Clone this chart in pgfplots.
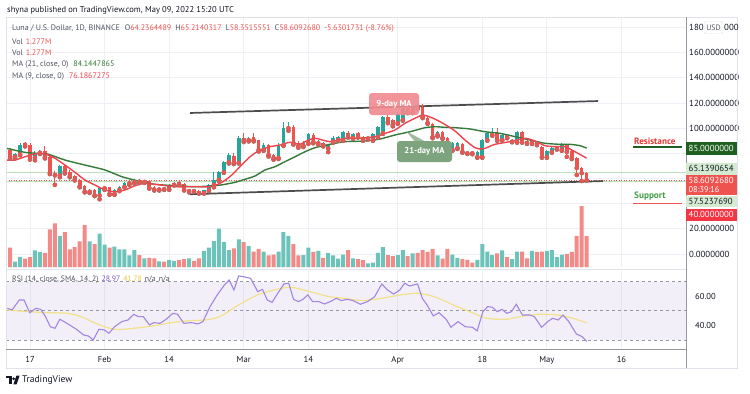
\documentclass[border=0pt]{standalone}
\usepackage{pgfplots}
\pgfplotsset{compat=1.18}
\usepackage{pgfplotstable}
\usepackage{fontspec}
\setmainfont{PT Sans}
\definecolor{cUp}{HTML}{26A69A}
\definecolor{cDn}{HTML}{EF5350}
\definecolor{volup}{HTML}{6CC3BA}
\definecolor{voldn}{HTML}{F48A87}
\definecolor{gridc}{HTML}{EDF0F6}
\definecolor{txt}{HTML}{131722}
\definecolor{txtg}{HTML}{50535E}
\definecolor{ma9}{HTML}{F0434E}
\definecolor{ma21}{HTML}{357A38}
\definecolor{rsi}{HTML}{A386E0}
\definecolor{rsisma}{HTML}{F3E08A}
\definecolor{rsiv}{HTML}{7E57C2}
\definecolor{rsiy}{HTML}{E8CB3C}
\definecolor{trend}{HTML}{4D4D4D}
\definecolor{lgreen}{HTML}{D4EBD2}
\definecolor{lgline}{HTML}{BCE0B9}
\definecolor{dgreen}{HTML}{1F5F20}
\definecolor{axisc}{HTML}{9598A1}
\definecolor{framec}{HTML}{E0E3EB}
\definecolor{redbox}{HTML}{EF5350}
\definecolor{redbox2}{HTML}{F23645}
\definecolor{resred}{HTML}{E53935}
\definecolor{supgreen}{HTML}{43A047}
\definecolor{ninebox}{HTML}{F08A90}
\definecolor{twobox}{HTML}{7DA37F}
\newcommand\fs[1]{\fontsize{#1bp}{#1bp}\selectfont}

\pgfplotsset{
  panel/.style={scale only axis, width=680bp, xmin=12.17, xmax=148.99,
    axis line style={draw=none}, tick style={draw=none}, major tick length=0pt,
    anchor=south west},
  candle/.style 2 args={color=#1, only marks, mark=none,
    error bars/.cd, y dir=plus, y explicit, error mark=none,
    error bar style={draw=#1, color=#1, line width=#2, line cap=butt}},
}

\pgfplotstableread{
d o h l c u v
13 83.0 84.5 76.0 77.2 0 0.80
14 77.2 80.5 76.0 79.3 1 0.22
15 79.3 88.0 78.5 86.5 1 0.42
16 87.5 89.0 85.5 86.8 0 0.34
17 86.8 88.0 75.0 76.5 0 0.41
18 76.5 82.0 74.5 80.5 1 0.69
19 80.5 83.0 79.5 82.0 1 0.62
20 82.0 85.5 76.0 77.0 0 0.58
21 77.0 78.0 63.5 64.5 0 1.55
22 64.5 66.0 55.0 62.5 0 1.80
23 62.5 71.0 61.0 70.0 1 1.28
24 70.0 71.5 64.0 65.5 0 1.44
25 65.5 67.0 61.0 61.8 0 0.73
26 61.8 63.0 58.5 59.0 0 0.82
27 59.0 60.0 53.0 53.8 0 1.06
28 53.8 55.0 49.0 49.5 0 1.73
29 49.5 52.0 48.5 50.8 1 1.06
30 50.8 52.0 46.0 46.5 0 0.94
31 46.5 53.0 43.5 52.5 1 1.37
32 52.2 54.0 51.0 52.9 1 0.92
33 52.9 53.5 47.0 47.7 0 0.80
34 47.7 52.0 47.0 51.0 1 0.84
35 51.0 54.0 50.0 53.3 1 0.73
36 53.3 57.0 53.0 56.5 1 0.73
37 56.2 58.0 55.0 57.0 1 0.48
38 57.0 60.0 56.0 59.0 1 0.70
39 59.0 60.0 56.5 57.5 0 0.49
40 57.3 59.0 56.5 58.0 1 0.36
41 58.0 58.5 52.0 52.5 0 0.38
42 52.5 54.0 50.5 51.3 0 0.36
43 51.3 53.0 50.5 52.5 1 0.23
44 52.5 53.5 51.0 51.5 0 0.22
45 51.5 56.0 51.0 55.0 1 0.28
46 55.0 57.5 54.5 56.5 1 0.25
47 57.0 59.0 55.0 55.5 0 0.28
48 55.5 56.5 50.5 51.0 0 0.32
49 50.0 51.5 49.0 51.0 1 0.36
50 51.0 51.5 49.5 50.0 0 0.25
51 50.0 50.5 48.0 48.5 0 0.36
52 48.5 51.0 48.0 50.5 1 0.66
53 50.5 55.5 50.0 55.0 1 0.80
54 55.0 65.0 53.0 59.0 1 1.07
55 59.0 66.0 58.0 65.0 1 1.58
56 65.0 74.0 64.5 73.0 1 1.04
57 73.0 80.0 72.0 78.7 1 0.70
58 78.0 80.0 71.5 72.5 0 0.77
59 72.5 93.5 72.0 92.0 1 1.14
60 92.0 96.0 89.0 90.5 0 1.03
61 90.5 93.0 89.5 92.0 1 0.87
62 93.0 96.0 89.5 90.5 0 0.63
63 90.5 91.0 81.5 82.7 0 0.75
64 82.7 88.0 82.0 86.6 1 0.63
65 86.6 87.5 77.5 78.7 0 0.48
66 78.7 79.5 75.0 76.3 0 0.51
67 76.3 88.0 75.5 86.6 1 0.63
68 86.6 105.0 86.0 100.0 1 1.44
69 100.0 105.0 98.0 101.0 1 1.28
70 101.0 102.5 87.0 88.0 0 0.94
71 88.0 89.5 84.5 86.0 0 0.48
72 86.0 90.0 85.0 88.5 1 0.49
73 88.2 96.5 87.5 95.4 1 0.80
74 94.6 96.0 88.0 89.0 0 0.62
75 88.0 90.5 87.0 89.3 1 0.66
76 88.2 89.0 85.5 86.6 0 0.38
77 84.0 87.5 81.0 86.6 1 0.58
78 89.3 93.5 88.5 92.2 1 0.48
79 90.6 94.0 90.0 93.0 1 0.34
80 90.6 98.0 90.0 97.0 1 0.51
81 96.2 98.0 92.5 93.0 0 0.70
82 92.2 96.5 91.5 95.4 1 0.36
83 96.0 97.0 92.5 93.0 0 0.32
84 93.0 94.0 90.0 90.6 0 0.28
85 91.8 93.8 91.0 93.0 1 0.15
86 90.6 96.0 90.0 95.2 1 0.18
87 93.0 102.0 92.5 101.0 1 0.58
88 96.2 110.0 95.5 108.9 1 0.82
89 108.9 110.5 104.0 104.9 0 0.49
90 106.5 107.5 101.5 102.5 0 0.45
91 104.1 112.5 103.5 111.3 1 0.49
92 106.5 117.0 106.0 116.0 1 0.70
93 116.0 117.5 112.0 113.0 0 0.45
94 112.9 118.0 112.0 116.9 1 0.56
95 117.5 119.0 115.5 116.5 0 0.58
96 116.5 119.5 108.0 109.0 0 0.70
97 108.0 109.5 103.5 104.1 0 0.62
98 103.3 104.5 92.0 93.0 0 0.75
99 94.6 98.0 93.5 97.0 1 0.48
100 97.0 98.0 91.5 92.2 0 0.34
101 92.2 93.0 81.5 82.7 0 0.75
102 82.7 89.0 82.0 88.2 1 0.51
103 84.3 89.0 83.5 88.2 1 0.38
104 87.4 88.5 80.5 81.1 0 0.32
105 81.1 82.0 79.5 80.0 0 0.29
106 80.8 81.5 79.3 80.0 0 0.18
107 77.1 81.8 76.5 81.1 1 0.29
108 77.1 91.5 76.5 90.6 1 0.94
109 90.6 97.0 90.0 96.2 1 0.63
110 94.6 100.2 94.0 95.9 1 0.49
111 96.2 100.2 90.0 90.6 0 0.56
112 90.6 95.5 90.0 94.6 1 0.69
113 94.6 95.5 92.0 92.5 0 0.41
114 89.3 91.2 88.8 90.6 1 0.32
115 89.0 98.0 88.5 97.0 1 0.63
116 97.0 98.0 88.5 89.0 0 0.63
117 89.8 90.5 87.5 88.2 0 0.36
118 88.2 90.5 87.5 89.8 1 0.66
119 89.3 90.2 86.5 87.2 0 0.62
120 85.0 86.0 76.5 77.1 0 0.63
121 77.1 82.5 76.5 81.9 1 0.66
122 81.1 85.0 80.5 84.3 1 0.70
123 83.5 86.0 83.0 85.3 1 0.41
124 82.7 88.5 82.0 87.4 1 0.51
125 86.6 87.5 77.3 81.1 0 0.54
126 81.9 82.5 75.5 76.3 0 0.62
127 76.3 77.0 62.8 68.4 0 1.28
128 68.4 69.0 58.0 64.24 0 2.51
129 64.24 65.21 58.35 58.61 0 1.277
}\candles

\begin{document}
\begin{tikzpicture}[x=1bp,y=1bp]
\path[use as bounding box] (0,0) rectangle (750,393);
\fill[white] (0,0) rectangle (750,393);

% price grid + labels
\begin{axis}[panel, at={(6bp,126bp)}, height=250bp, ymin=-10.33, ymax=188.4,
  ytick={0,20,40,60,80,100,120,140,160,180},
  yticklabels={0.0000000,20.0000000,{},{},{},100.0000000,120.0000000,140.0000000,160.0000000,{}},
  yticklabel pos=right,
  yticklabel style={anchor=west, inner sep=0pt, xshift=3bp, font=\fs{8.8}, text=txt},
  xtick={17,32,45,60,73,91,108,121,136}, xticklabels={},
  xmajorgrids, ymajorgrids, grid style={gridc, line width=0.9bp}]
\addplot[draw=none] coordinates {(20,50)};
\end{axis}

% volume
\begin{axis}[panel, at={(6bp,126bp)}, height=250bp, ymin=0, ymax=10.3, axis lines=none, ybar]
\addplot[fill=volup, draw=none, bar width=4bp, bar shift=0pt] table[x=d, y expr={\thisrow{u}*\thisrow{v}}]{\candles};
\addplot[fill=voldn, draw=none, bar width=4bp, bar shift=0pt] table[x=d, y expr={(1-\thisrow{u})*\thisrow{v}}]{\candles};
\end{axis}

% price overlay
\begin{axis}[panel, at={(6bp,126bp)}, height=250bp, ymin=-10.33, ymax=188.4, axis lines=none]
\addplot[lgline, line width=0.9bp] coordinates {(12.17,65.139) (148.99,65.139)};
\addplot[lgline, line width=0.9bp] coordinates {(12.17,57.524) (148.99,57.524)};
\addplot[cDn, line width=0.8bp, dash pattern=on 1bp off 1.5bp] coordinates {(12.17,58.609) (148.99,58.609)};
\addplot[dgreen, line width=1.4bp] coordinates {(138.3,85) (148.2,85)};
\addplot[cDn, line width=1.4bp] coordinates {(138.3,40) (148.2,40)};
\addplot[trend, line width=1.7bp] coordinates {(49.2,112.1) (131.3,121.6)};
\addplot[trend, line width=1.7bp] coordinates {(49.2,47.5) (132.3,58.0)};
% wicks
\addplot[candle={cUp}{1bp}]
  table[x=d, y=l, y error plus expr={\thisrow{u}*(\thisrow{h}-\thisrow{l})}]{\candles};
\addplot[candle={cDn}{1bp}]
  table[x=d, y=l, y error plus expr={(1-\thisrow{u})*(\thisrow{h}-\thisrow{l})}]{\candles};
% bodies
\addplot[candle={cUp}{3.6bp}]
  table[x=d, y expr={min(\thisrow{o},\thisrow{c})}, y error plus expr={\thisrow{u}*max(abs(\thisrow{c}-\thisrow{o}),0.7)}]{\candles};
\addplot[candle={cDn}{3.6bp}]
  table[x=d, y expr={min(\thisrow{o},\thisrow{c})}, y error plus expr={(1-\thisrow{u})*max(abs(\thisrow{c}-\thisrow{o}),0.7)}]{\candles};
% 21-day MA
\addplot[ma21, line width=1.4bp, smooth, tension=0.4] coordinates {
(12.31,84.0) (15.99,80.8) (18.67,80.0) (20.68,79.3) (24.04,74.7) (28.07,70.7) (32.09,66.8)
(35.45,61.5) (38.79,58.0) (42.15,55.4) (46.18,54.3) (50.20,53.5) (54.22,54.3) (56.24,55.4)
(58.25,57.0) (60.26,59.4) (62.27,62.0) (64.28,66.8) (66.30,69.4) (68.31,73.4) (70.32,77.3)
(72.33,81.3) (74.34,84.5) (77.36,87.2) (80.38,89.3) (84.41,89.8) (87.42,91.4) (90.44,94.6)
(93.46,97.2) (96.48,100.4) (98.49,101.2) (100.50,100.7) (102.51,100.4) (105.53,99.4)
(108.55,97.2) (111.57,95.9) (114.59,93.3) (117.60,90.6) (120.62,88.0) (123.64,87.2)
(125.65,87.2) (127.66,86.1) (129.0,84.14)};
% 9-day MA
\addplot[ma9, line width=1.4bp, smooth, tension=0.4] coordinates {
(12.31,74.7) (13.98,74.7) (15.99,77.3) (18.01,79.5) (20.02,79.5) (22.03,76.1) (24.04,70.7)
(26.05,64.9) (28.07,58.8) (30.08,54.8) (32.09,50.9) (34.10,49.5) (36.11,50.9) (38.13,54.3)
(40.14,56.2) (42.15,55.4) (46.18,53.5) (50.20,53.5) (53.22,53.5) (55.23,56.2) (57.24,61.5)
(59.25,69.4) (61.27,77.3) (63.28,82.7) (65.29,85.3) (67.30,86.6) (69.31,88.8) (71.33,87.2)
(72.33,89.3) (74.34,92.0) (77.36,89.3) (80.38,92.0) (83.40,92.0) (86.42,93.3) (88.43,95.9)
(90.44,98.6) (92.45,103.9) (94.47,107.9) (96.08,110.5) (98.09,107.9) (100.10,103.9)
(102.51,97.8) (104.52,90.6) (106.54,84.5) (108.15,83.5) (110.56,87.2) (113.58,89.3)
(116.60,92.0) (118.61,89.8) (120.62,86.1) (122.63,85.3) (124.65,85.3) (126.66,81.3) (129.0,76.19)};
\end{axis}

% RSI pane
\begin{axis}[panel, at={(6bp,44bp)}, height=78bp, ymin=23.8, ymax=77.3,
  ytick={40,60}, yticklabels={40.00,60.00}, yticklabel pos=right,
  yticklabel style={anchor=west, inner sep=0pt, xshift=9bp, font=\fs{8.6}, text=txt},
  xtick={17,32,45,60,73,91,108,121,136}, xticklabels={17,Feb,14,Mar,14,Apr,18,May,16},
  xticklabel style={anchor=base, inner sep=0pt, yshift=-13bp, font=\fs{8.6}, text=txt},
  xmajorgrids, grid style={gridc, line width=0.9bp}]
\fill[rsiv, fill opacity=0.09] (axis cs:12.17,30) rectangle (axis cs:148.99,70);
\draw[axisc, line width=0.7bp, dash pattern=on 3bp off 3bp] (axis cs:12.17,70) -- (axis cs:148.99,70);
\draw[axisc, line width=0.7bp, dash pattern=on 3bp off 3bp] (axis cs:12.17,50) -- (axis cs:148.99,50);
\draw[axisc, line width=0.7bp, dash pattern=on 3bp off 3bp] (axis cs:12.17,30) -- (axis cs:148.99,30);
\addplot[rsisma, line width=1.2bp, smooth] coordinates {
(12.44,50.6) (16.76,49.4) (20.60,48.7) (24.44,48.3) (27.31,46.0) (30.19,41.4) (34.03,37.3)
(37.87,38.0) (41.71,39.6) (45.55,41.9) (49.39,43.3) (52.27,43.7) (55.15,46.0) (58.98,54.0)
(62.82,60.9) (66.66,64.7) (69.54,66.1) (73.38,63.1) (77.22,59.7) (80.10,58.6) (83.94,57.0)
(87.78,58.6) (91.61,60.9) (94.97,62.0) (98.33,59.7) (102.17,54.0) (106.01,48.7) (108.89,44.9)
(112.73,44.2) (115.61,46.0) (119.45,47.6) (123.28,47.1) (126.16,44.9) (129.04,41.78)};
\addplot[rsi, line width=1.1bp] coordinates {
(12.44,51.7) (13.40,50.6) (14.84,57.4) (15.80,57.4) (16.95,48.7) (18.20,51.7) (19.16,51.0)
(20.12,46.0) (21.08,39.1) (22.04,38.0) (23.00,44.2) (24.44,41.4) (26.36,37.3) (27.79,33.4)
(28.75,32.7) (29.71,30.0) (30.87,37.3) (31.92,36.9) (32.88,34.6) (34.03,39.1) (35.47,42.6)
(36.72,43.7) (37.87,47.6) (38.83,46.0) (39.79,46.0) (41.04,40.3) (41.90,41.9) (43.15,41.4)
(44.40,44.2) (45.74,48.3) (46.70,47.6) (47.95,41.4) (49.39,41.9) (50.83,41.0) (51.79,42.6)
(53.23,52.9) (54.67,60.9) (56.11,67.7) (57.07,71.1) (58.03,64.3) (58.98,73.9) (59.94,73.4)
(61.38,72.3) (62.82,63.1) (63.78,64.7) (64.74,57.4) (65.70,55.8) (66.85,62.0) (68.10,68.4)
(69.06,68.9) (70.02,57.9) (70.98,56.3) (71.94,57.9) (72.90,60.9) (73.86,56.3) (75.11,56.3)
(76.26,54.7) (77.41,56.3) (78.66,58.6) (79.62,57.0) (80.87,57.9) (82.02,57.0) (83.46,54.5)
(84.90,56.3) (86.34,59.7) (87.78,68.4) (88.93,64.3) (90.17,61.5) (91.42,64.3) (92.38,68.9)
(93.34,67.0) (94.97,68.4) (95.93,58.6) (96.89,54.0) (98.14,46.5) (99.29,48.7) (100.73,44.2)
(101.69,38.7) (103.13,42.6) (104.57,39.1) (106.01,38.7) (106.97,36.2) (108.12,49.4)
(109.08,52.9) (110.04,52.4) (111.00,49.4) (111.96,51.0) (112.92,48.3) (113.88,49.4)
(114.84,54.5) (116.09,47.1) (117.53,47.1) (118.48,46.0) (119.93,38.7) (121.17,42.6)
(122.13,44.9) (123.28,43.7) (124.24,47.1) (125.40,42.6) (126.93,34.1) (128.08,32.3) (129.04,28.97)};
\end{axis}

% frame and separators
\draw[framec, line width=0.8bp] (6,25) rectangle (737,376);
\draw[framec, line width=0.8bp] (6,124) -- (686,124);
\draw[axisc, line width=0.8bp] (6,44) -- (686,44);
\draw[axisc, line width=0.8bp] (686,25) -- (686,376);

% header
\node[anchor=west, inner sep=0, font=\fs{8.5}, text=txt] at (7,383) {shyna published on TradingView.com, May 09, 2022 15:20 UTC};
\node[anchor=west, inner sep=0, font=\fs{8}, text=txtg] at (12,364) {Luna / U.S. Dollar, 1D, BINANCE\hspace{5bp}O\textcolor{cDn}{64.2364489}\hspace{4bp}H\textcolor{cDn}{65.2140317}\hspace{4bp}L\textcolor{cDn}{58.3515551}\hspace{4bp}C\textcolor{cDn}{58.6092680}\hspace{4bp}\textcolor{cDn}{-5.6301731 (-8.76\%)}};
\node[anchor=west, inner sep=0, font=\fs{8}, text=txtg] at (12,351.5) {Vol\hspace{3bp}\textcolor{cDn}{1.277M}};
\node[anchor=west, inner sep=0, font=\fs{8}, text=txtg] at (12,340) {Vol\hspace{3bp}\textcolor{cDn}{1.277M}};
\node[anchor=west, inner sep=0, font=\fs{8}, text=txtg] at (12,328) {MA (21, close, 0)\hspace{5bp}\textcolor{ma21}{84.1447865}};
\node[anchor=west, inner sep=0, font=\fs{8}, text=txtg] at (12,316) {MA (9, close, 0)\hspace{5bp}\textcolor{ma9}{76.1867275}};
\node[anchor=west, inner sep=0, font=\fs{7.8}, text=txtg] at (12,113) {RSI (14, close, SMA, 14, 2)\hspace{3bp}\textcolor{rsiv}{28.97}\hspace{3bp}\textcolor{rsiy}{41.78}\hspace{3bp}n/a\hspace{3bp}n/a};

% 180 label with USD badge
\node[anchor=west, inner sep=0, font=\fs{8.8}, text=txt] at (689,365.5) {180};
\node[anchor=west, inner sep=0, font=\fs{8.8}, text=txt] at (724,365.5) {000};
\filldraw[fill=white, draw=framec, rounded corners=1.5bp] (704,359.5) rectangle (723,371.5);
\node[inner sep=0, font=\fs{7.8}, text=txtg] at (713.5,365.5) {USD};

% right price boxes
\fill[dgreen] (686,238.5) rectangle (737,251.5);
\node[anchor=west, inner sep=0, font=\fs{8.8}, text=white] at (688.5,245) {85.0000000};
\fill[lgreen] (686,218.5) rectangle (737,230.5);
\node[anchor=west, inner sep=0, font=\fs{8.8}, text=txt] at (688.5,224.5) {65.1390654};
\fill[redbox] (686,198) rectangle (737,218);
\node[anchor=west, inner sep=0, font=\fs{8.8}, text=white] at (688.5,213) {58.6092680};
\node[anchor=west, inner sep=0, font=\fs{8.3}, text=white] at (688.5,203) {08:39:16};
\fill[lgreen] (686,186) rectangle (737,197.5);
\node[anchor=west, inner sep=0, font=\fs{8.8}, text=txt] at (688.5,191.8) {57.5237690};
\fill[redbox2] (686,172.5) rectangle (737,184.5);
\node[anchor=west, inner sep=0, font=\fs{8.8}, text=white] at (688.5,178.5) {40.0000000};

% resistance / support texts
\node[anchor=west, inner sep=0, font=\fs{9.2}\bfseries, text=resred] at (634,252) {Resistance};
\node[anchor=west, inner sep=0, font=\fs{9.2}\bfseries, text=supgreen] at (634,197) {Support};

% MA callouts
\fill[twobox, fill opacity=0.75] (406,262) -- (416,250) -- (428,250) -- cycle;
\fill[twobox, rounded corners=3bp] (397,231) rectangle (452,252);
\node[inner sep=0, font=\fs{8.6}\bfseries, text=white] at (424.5,241.5) {21-day MA};
\fill[ninebox, fill opacity=0.9, rounded corners=3bp] (369,278) rectangle (419,300);
\node[inner sep=0, font=\fs{8.6}\bfseries, text=white] at (394,289) {9-day MA};

% TradingView logo
\fill[txt] (6,14.6) rectangle (11.6,17.4);
\fill[txt] (8.9,8.6) rectangle (11.6,17.4);
\fill[txt] (13.7,14.3) circle (1.5);
\fill[txt] (16.4,17.4) -- (19.6,17.4) -- (16.6,8.6) -- (13.4,8.6) -- cycle;
\node[anchor=west, inner sep=0, font=\fs{9.6}, text=txt] at (22,13) {TradingView};
\end{tikzpicture}
\end{document}
